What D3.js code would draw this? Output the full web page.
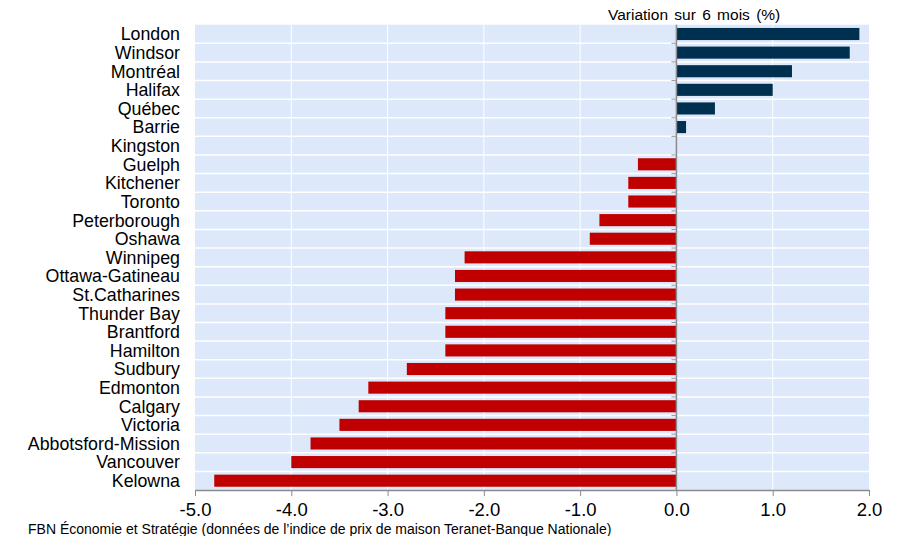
<!DOCTYPE html>
<html><head><meta charset="utf-8">
<script src="https://cdn.jsdelivr.net/npm/d3@7"></script>
<style>body{margin:0;background:#fff;} text{font-family:"Liberation Sans",Arial,sans-serif;}</style>
</head><body>
<svg id="c" width="898" height="536"></svg>
<script>
const categories = ["London","Windsor","Montréal","Halifax","Québec","Barrie","Kingston","Guelph","Kitchener","Toronto","Peterborough","Oshawa","Winnipeg","Ottawa-Gatineau","St.Catharines","Thunder Bay","Brantford","Hamilton","Sudbury","Edmonton","Calgary","Victoria","Abbotsford-Mission","Vancouver","Kelowna"];
const values = [1.9,1.8,1.2,1.0,0.4,0.1,0.0,-0.4,-0.5,-0.5,-0.8,-0.9,-2.2,-2.3,-2.3,-2.4,-2.4,-2.4,-2.8,-3.2,-3.3,-3.5,-3.8,-4.0,-4.8];
const xTicks = [-5,-4,-3,-2,-1,0,1,2];
const title = "Variation sur 6 mois (%)";
const source = "FBN Économie et Stratégie (données de l’indice de prix de maison Teranet-Banque Nationale)";

const svg = d3.select("#c");
const L=195, R=869, T=24.7, B=490;
const x = d3.scaleLinear().domain([-5,2]).range([L,R]);
const y = d3.scaleBand().domain(categories).range([T,B]).paddingInner(0.35).paddingOuter(0.175);
const yb = d3.scaleBand().domain(categories).range([T,B]);

svg.append("rect").attr("x",L).attr("y",T).attr("width",R-L).attr("height",B-T).attr("fill","#dde8fa");
svg.append("g").selectAll("line").data(categories.slice(1)).join("line")
  .attr("x1",L).attr("x2",R).attr("y1",d=>yb(d)).attr("y2",d=>yb(d))
  .attr("stroke","#fff").attr("stroke-width",1.5);
svg.append("g").selectAll("line").data(xTicks.filter(d=>d!==0 && d!==-5 && d!==2)).join("line")
  .attr("x1",d=>x(d)).attr("x2",d=>x(d)).attr("y1",T).attr("y2",B)
  .attr("stroke","#fff").attr("stroke-width",1);

svg.append("g").selectAll("rect").data(categories).join("rect")
  .attr("x",(d,i)=>x(Math.min(0,values[i])))
  .attr("width",(d,i)=>Math.abs(x(values[i])-x(0)))
  .attr("y",d=>y(d)).attr("height",y.bandwidth())
  .attr("fill",(d,i)=>values[i]>=0?"#00304f":"#c00000");

svg.append("line").attr("x1",x(0)).attr("x2",x(0)).attr("y1",T).attr("y2",B).attr("stroke","#8c8c8c").attr("stroke-width",1.5);
svg.append("g").selectAll("line").data(categories.slice(1)).join("line")
  .attr("x1",x(0)-5).attr("x2",x(0)).attr("y1",d=>yb(d)).attr("y2",d=>yb(d))
  .attr("stroke","#9a9a9a").attr("stroke-width",1);

const xa = svg.append("g").attr("transform",`translate(0,${B})`)
  .call(d3.axisBottom(x).tickValues(xTicks).tickFormat(d3.format(".1f")).tickSize(6).tickSizeOuter(0));
xa.select(".domain").attr("stroke","#8c8c8c").attr("stroke-width",1.5);
xa.selectAll(".tick line").attr("stroke","#8c8c8c");
xa.selectAll(".tick text").attr("font-size",18.5).attr("fill","#000").attr("y",9).attr("dy","0.9em")
  .text(d=>d3.format(".1f")(d).replace("−","-"));

svg.append("g").selectAll("text").data(categories).join("text")
  .attr("x",180).attr("y",d=>yb(d)+yb.bandwidth()/2).attr("dy","0.36em")
  .attr("text-anchor","end").attr("font-size",17.8).attr("fill","#000").text(d=>d);

svg.append("text").attr("x",608).attr("y",20).attr("font-size",15.5).attr("word-spacing",2).attr("fill","#000").text(title);
svg.append("text").attr("x",28).attr("y",534).attr("font-size",14).attr("fill","#000").text(source);
</script>
</body></html>
